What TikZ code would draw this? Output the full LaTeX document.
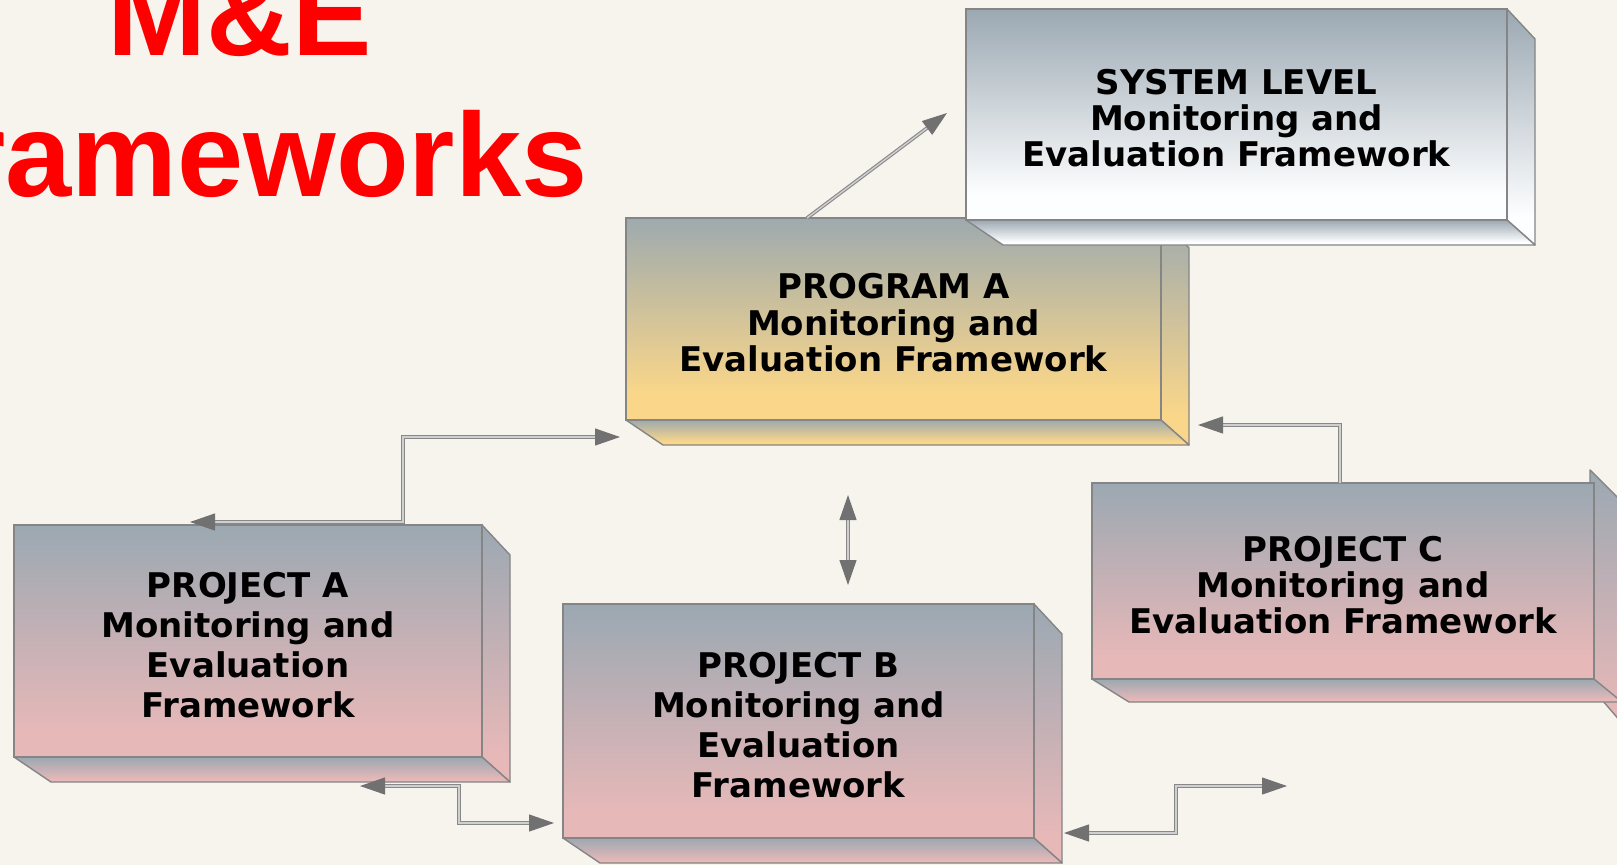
\documentclass[tikz,border=0pt]{standalone}
\usepackage{fontspec}
\setmainfont{DejaVu Sans}
\newfontfamily\titlefont{Liberation Sans}
\usetikzlibrary{arrows.meta}
\definecolor{bgc}{HTML}{F7F4EE}
\definecolor{edgec}{HTML}{858585}
\definecolor{grayT}{HTML}{9BA8B2}
\definecolor{grayY}{HTML}{9EAAAE}
\definecolor{pinkB}{HTML}{E6B8B8}
\definecolor{yelB}{HTML}{F9D68A}
\definecolor{whiteB}{HTML}{FDFEFF}
\definecolor{titlered}{HTML}{FF0000}
\definecolor{lineout}{HTML}{888888}
\definecolor{linein}{HTML}{CFCFCF}
\definecolor{arrowc}{HTML}{717171}
% pgf fits the central 50bp of a 100bp shading onto the path
\pgfdeclareverticalshading{pinkgrad}{100bp}{color(0bp)=(pinkB); color(31bp)=(pinkB); color(75bp)=(grayT); color(100bp)=(grayT)}
\pgfdeclareverticalshading{yelgrad}{100bp}{color(0bp)=(yelB); color(32bp)=(yelB); color(75bp)=(grayY); color(100bp)=(grayY)}
\pgfdeclareverticalshading{whitegrad}{100bp}{color(0bp)=(whiteB); color(31bp)=(whiteB); color(75bp)=(grayT); color(100bp)=(grayT)}
\newcommand\bdx{28}
\newcommand\bdyr{30}
\newcommand\bdy{25}
\newcommand\bdxb{37}
% #1 name, #2 L, #3 T, #4 R, #5 B, #6 shading, #7 baselineskip, #8 text
\newcommand\mebox[8]{%
  \shade[facestyle, shading=#6] (#4,#3) -- (#4+\bdx,#3+\bdyr) -- (#4+\bdx,#5+\bdy) -- (#4,#5) -- cycle;
  \shade[facestyle, shading=#6] (#2,#5) -- (#4,#5) -- (#4+\bdx,#5+\bdy) -- (#2+\bdxb,#5+\bdy) -- cycle;
  \node[frontface, shading=#6, minimum width={#4-#2}, minimum height={#5-#3}] (#1) at ({(#2+#4)/2},{(#3+#5)/2}) {};
  \node[boxtext, font=\fontsize{34}{#7}\selectfont\bfseries] (#1-text) at ({(#2+#4)/2},{(#3+#5)/2+4}) {#8};
}
\tikzset{
  facestyle/.style={shade, draw=edgec, line width=1.4pt, line join=round},
  frontface/.style={shade, draw=edgec, line width=1.4pt, rectangle, inner sep=0pt},
  boxtext/.style={inner sep=0pt, align=center, text=black},
  titlestyle/.style={inner sep=0pt, anchor=base, text=titlered, font=\titlefont\bfseries\fontsize{119}{140}\selectfont},
  metip/.tip={Triangle[length=25pt,width=17pt,color=arrowc]},
  conn/.style={draw=lineout, double=linein, double distance=1.4pt, line width=1.1pt, line join=miter}
}
\begin{document}
\begin{tikzpicture}[x=1pt,y=-1pt]
\fill[bgc] (0,0) rectangle (1617,865);
\useasboundingbox (0,0) rectangle (1617,865);

% title
\node[titlestyle] (title1) at (240,55) {M\&E};
\node[titlestyle] (title2) at (237,196) {Frameworks};

% project A
\mebox{projA}{14}{525}{482}{757}{pinkgrad}{40}{PROJECT A\\Monitoring and\\Evaluation\\Framework}
% project B
\mebox{projB}{563}{604}{1034}{838}{pinkgrad}{40}{PROJECT B\\Monitoring and\\Evaluation\\Framework}
% project C (right face partly off the page)
\shade[facestyle, shading=pinkgrad] (1590,470) -- (1640,520) -- (1640,744) -- (1590,686) -- cycle;
\shade[facestyle, shading=pinkgrad] (1092,679) -- (1594,679) -- (1622,702) -- (1129,702) -- cycle;
\node[frontface, shading=pinkgrad, minimum width=502pt, minimum height=196pt] (projC) at (1343,581) {};
\node[boxtext, font=\fontsize{34}{36}\selectfont\bfseries] (projC-text) at (1343,585) {PROJECT C\\Monitoring and\\Evaluation Framework};
% program A
\mebox{progA}{626}{218}{1161}{420}{yelgrad}{36.5}{PROGRAM A\\Monitoring and\\Evaluation Framework}
% system level
\mebox{sysL}{966}{9}{1507}{220}{whitegrad}{36}{SYSTEM LEVEL\\Monitoring and\\Evaluation Framework}

% connector end points
\coordinate (s0) at (807,218);
\coordinate (s1) at (947,113);
\coordinate (a0) at (190,522);
\coordinate (a1) at (403,522);
\coordinate (a2) at (403,437);
\coordinate (a3) at (620,437);
\coordinate (b0) at (360,786);
\coordinate (b1) at (459,786);
\coordinate (b2) at (459,823);
\coordinate (b3) at (554,823);
\coordinate (v0) at (848,495);
\coordinate (v1) at (848,585);
\coordinate (c0) at (1340,483);
\coordinate (c1) at (1340,425);
\coordinate (c2) at (1198,425);
\coordinate (d0) at (1064,833);
\coordinate (d1) at (1176,833);
\coordinate (d2) at (1176,786);
\coordinate (d3) at (1287,786);

\draw[conn, -metip] (s0) -- (s1);
\draw[conn, metip-metip] (a0) -- (a1) -- (a2) -- (a3);
\draw[conn, metip-metip] (b0) -- (b1) -- (b2) -- (b3);
\draw[conn, metip-metip] (v0) -- (v1);
\draw[conn, -metip] (c0) -- (c1) -- (c2);
\draw[conn, metip-metip] (d0) -- (d1) -- (d2) -- (d3);
\end{tikzpicture}
\end{document}
